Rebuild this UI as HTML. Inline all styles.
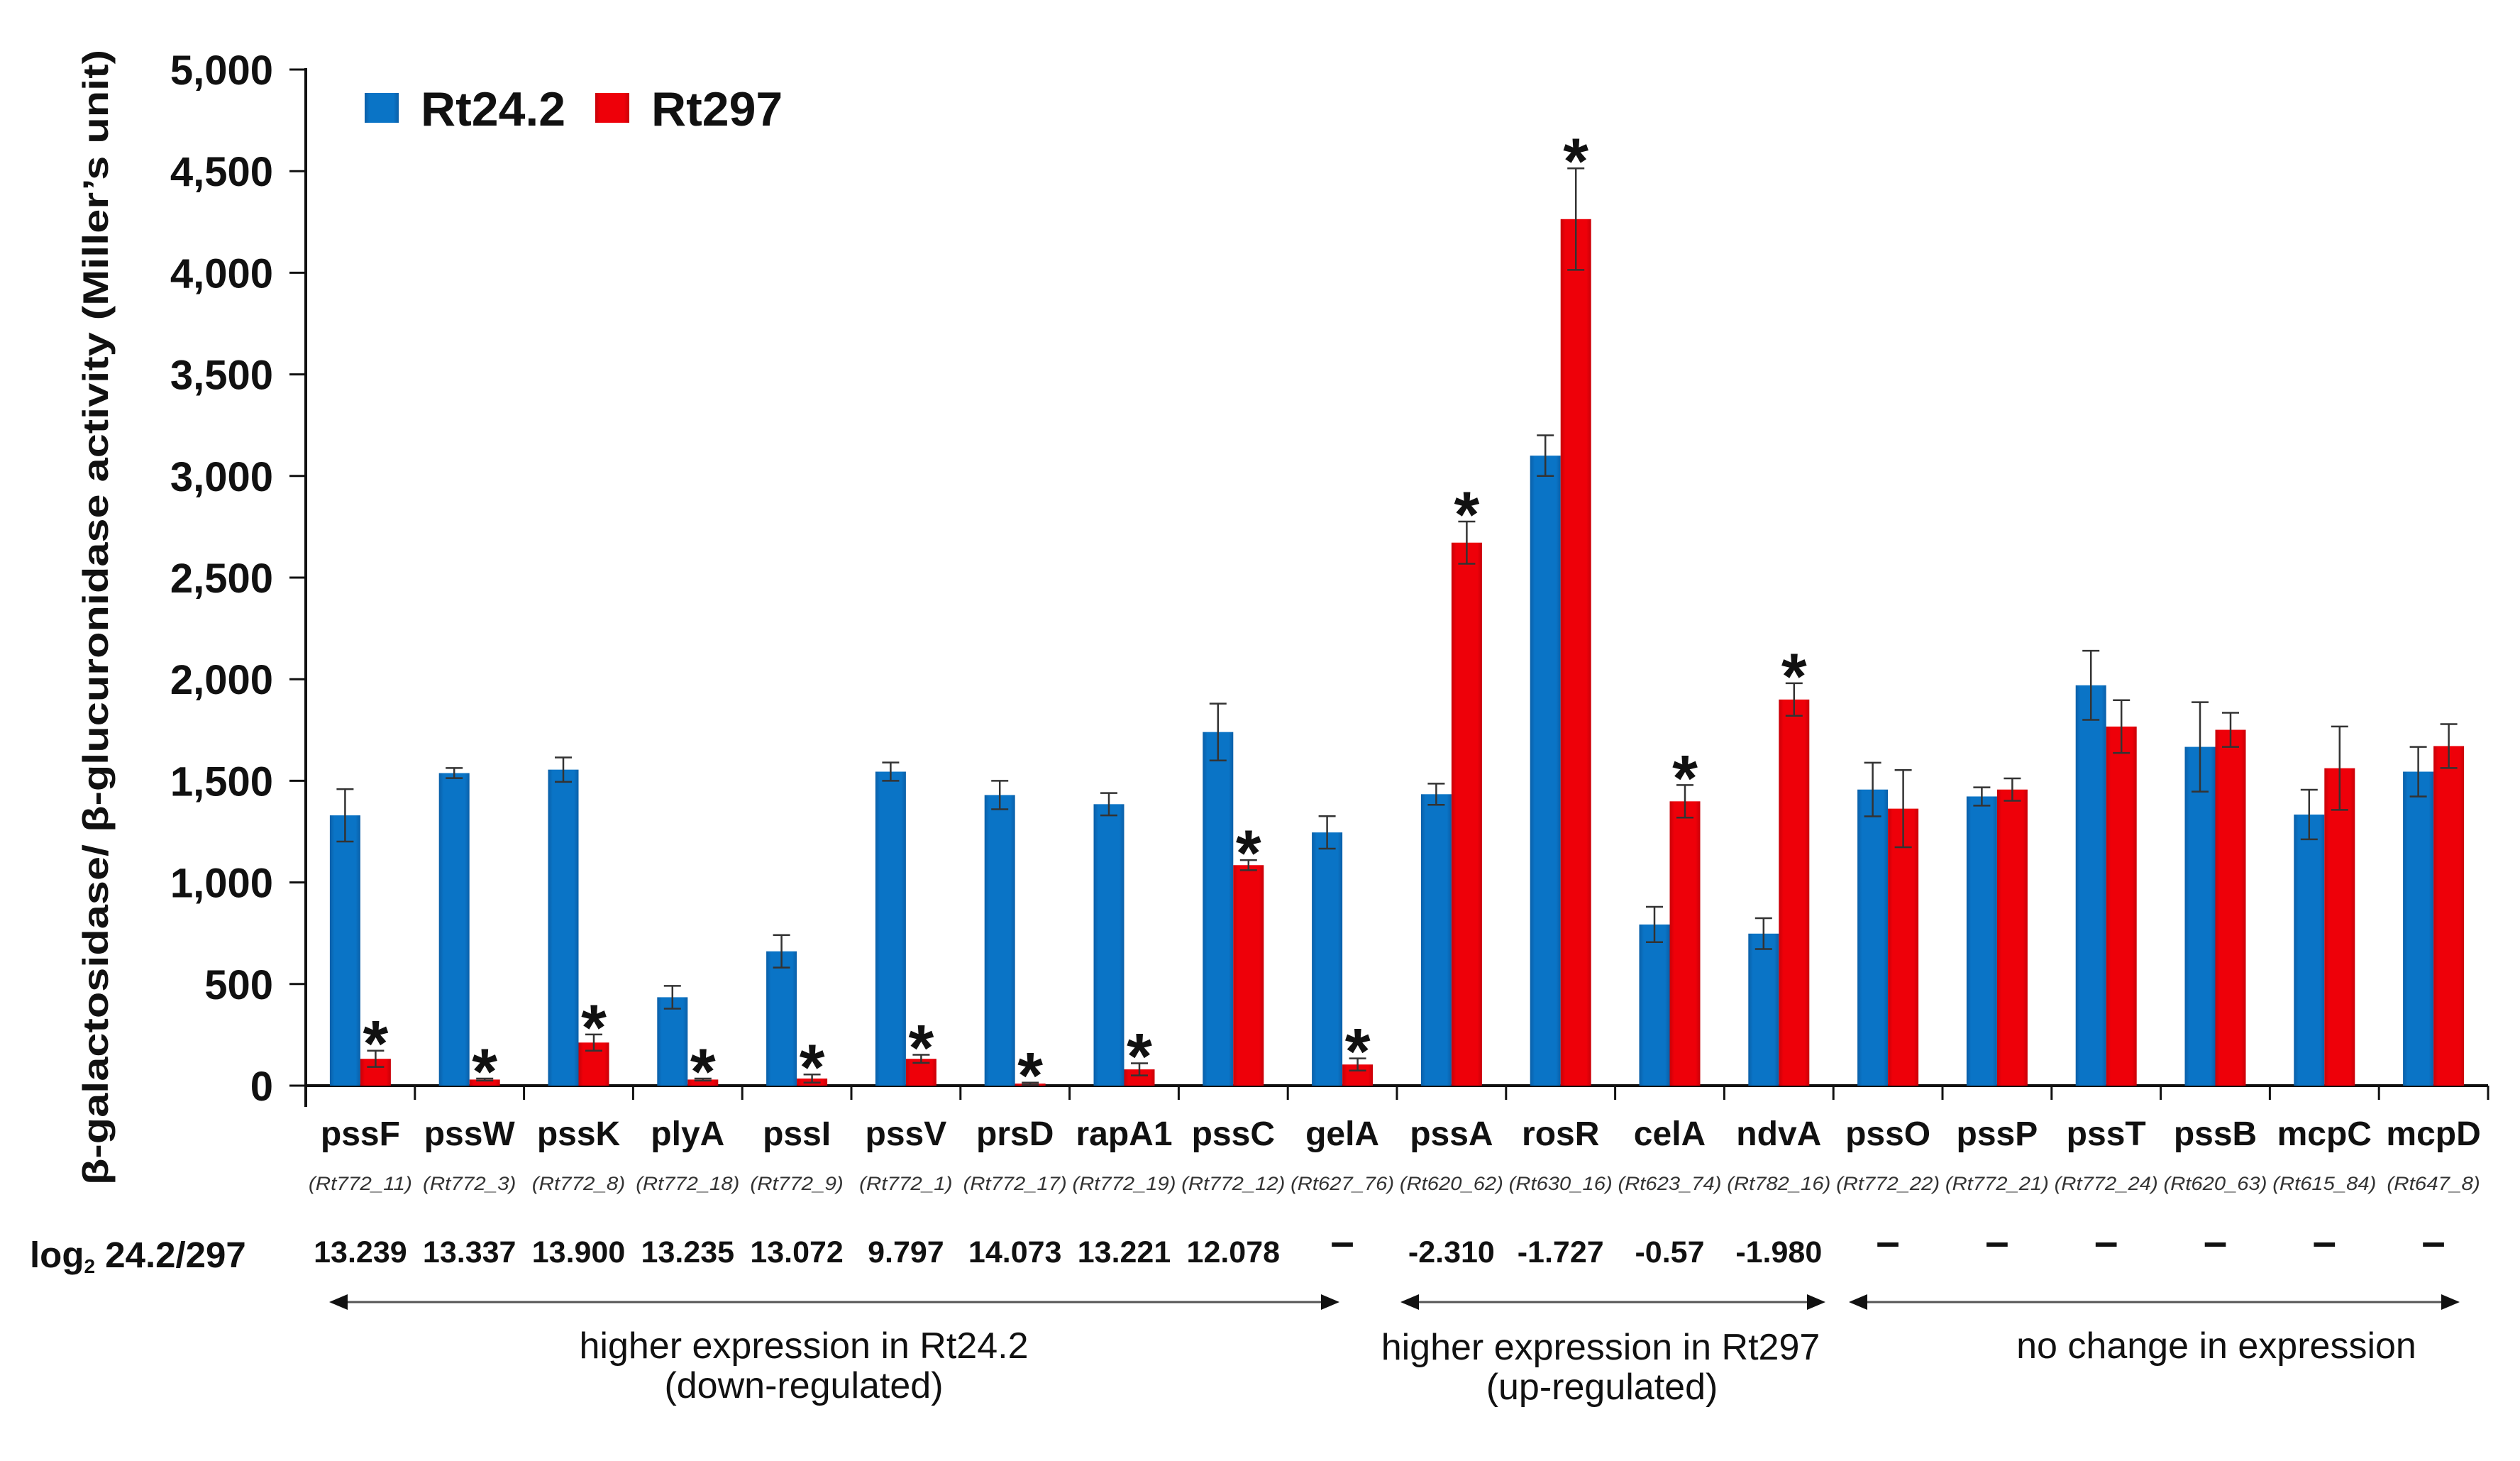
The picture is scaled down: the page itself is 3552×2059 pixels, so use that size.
<!DOCTYPE html>
<html><head><meta charset="utf-8"><style>
html,body{margin:0;padding:0;background:#fff;}
svg{display:block;}
text{font-family:"Liberation Sans",Arial,sans-serif;}
</style></head>
<body>
<svg id="chart" width="3552" height="2059" viewBox="0 0 3552 2059" xmlns="http://www.w3.org/2000/svg">
<defs>
<linearGradient id="gb" x1="0" x2="1" y1="0" y2="0"><stop offset="0" stop-color="#0a5fa8"/><stop offset="0.15" stop-color="#0a74c6"/><stop offset="0.85" stop-color="#0a74c6"/><stop offset="1" stop-color="#0a5fa8"/></linearGradient>
<linearGradient id="gr" x1="0" x2="1" y1="0" y2="0"><stop offset="0" stop-color="#c80008"/><stop offset="0.15" stop-color="#ee0009"/><stop offset="0.85" stop-color="#ee0009"/><stop offset="1" stop-color="#c80008"/></linearGradient>
</defs>
<g id="plot"></g>
</svg>
<script>
const categories=["pssF","pssW","pssK","plyA","pssI","pssV","prsD","rapA1","pssC","gelA","pssA","rosR","celA","ndvA","pssO","pssP","pssT","pssB","mcpC","mcpD"];
const locusTags=["(Rt772_11)","(Rt772_3)","(Rt772_8)","(Rt772_18)","(Rt772_9)","(Rt772_1)","(Rt772_17)","(Rt772_19)","(Rt772_12)","(Rt627_76)","(Rt620_62)","(Rt630_16)","(Rt623_74)","(Rt782_16)","(Rt772_22)","(Rt772_21)","(Rt772_24)","(Rt620_63)","(Rt615_84)","(Rt647_8)"];
const log2Values=["13.239","13.337","13.900","13.235","13.072","9.797","14.073","13.221","12.078","–","-2.310","-1.727","-0.57","-1.980","–","–","–","–","–","–"];
const rt242Values=[1330,1538,1555,435,661,1545,1430,1385,1740,1246,1434,3100,793,748,1457,1423,1970,1667,1334,1545];
const rt242Errors=[129,25,60,56,80,45,70,55,140,80,52,100,87,76,132,45,170,220,122,122];
const rt297Values=[132,30,212,30,35,132,10,80,1085,104,2672,4264,1399,1900,1363,1457,1767,1751,1562,1671];
const rt297Errors=[40,5,40,5,20,20,5,30,25,30,104,250,80,80,190,55,130,84,205,108];
const significant=[1,1,1,1,1,1,1,1,1,1,1,1,1,1,0,0,0,0,0,0];
const yTicks=[0,500,1000,1500,2000,2500,3000,3500,4000,4500,5000];
const yTickLabels=["0","500","1,000","1,500","2,000","2,500","3,000","3,500","4,000","4,500","5,000"];

const NS="http://www.w3.org/2000/svg";
const g=document.getElementById('plot');
const X0=431,X1=3507,Y0=1530,YTOP=98,VMAX=5000;
const gw=(X1-X0)/categories.length;
function yScale(v){return Y0-(v/VMAX)*(Y0-YTOP);}
function xCenter(i){return X0+gw*(i+0.5);}
function el(tag,attrs,parent){const e=document.createElementNS(NS,tag);for(const k in attrs)e.setAttribute(k,attrs[k]);(parent||g).appendChild(e);return e;}
function txt(s,attrs,parent){const e=el('text',attrs,parent);e.textContent=s;return e;}

let e=el('line',{x1:X0,y1:YTOP-2,x2:X0,y2:Y0+30,stroke:'#111','stroke-width':4});


yTicks.forEach((t,i)=>{
  const y=yScale(t);
  const tk=el('line',{x1:X0-23,y1:y,x2:X0,y2:y,stroke:'#111','stroke-width':3});
  
  
  const lb=txt(yTickLabels[i],{x:385,y:y+21,'text-anchor':'end','font-size':58,'font-weight':'bold',fill:'#111'});
  
  
});
e=txt("β-galactosidase/ β-glucuronidase activity (Miller’s unit)",{x:0,y:0,'font-size':50,'font-weight':'bold',fill:'#111','text-anchor':'middle',textLength:1600,lengthAdjust:'spacingAndGlyphs',transform:'translate(152,870) rotate(-90)'});



e=el('line',{x1:X0,y1:Y0,x2:X1,y2:Y0,stroke:'#111','stroke-width':4});


for(let i=0;i<=categories.length;i++){
  const x=X0+gw*i;
  const tk=el('line',{x1:x,y1:Y0,x2:x,y2:Y0+20,stroke:'#111','stroke-width':3});
  
  
}

const BW=43;
function errBar(cx,v,err){
  const yt=yScale(v+err),yb=yScale(Math.max(0,v-err));
  const gr=el('g',{});
  el('line',{x1:cx,y1:yt,x2:cx,y2:yb,stroke:'#333','stroke-width':2.5},gr);
  el('line',{x1:cx-12,y1:yt,x2:cx+12,y2:yt,stroke:'#333','stroke-width':2.5},gr);
  el('line',{x1:cx-12,y1:yb,x2:cx+12,y2:yb,stroke:'#333','stroke-width':2.5},gr);
  return gr;
}
categories.forEach((c,i)=>{
  const cx=xCenter(i);
  const yb=yScale(rt242Values[i]);
  const b=el('rect',{x:cx-BW,y:yb,width:BW,height:Y0-yb,fill:'url(#gb)'});
  
  
  const yr=yScale(rt297Values[i]);
  const r=el('rect',{x:cx,y:yr,width:BW,height:Y0-yr,fill:'url(#gr)'});
  
  
  const e1=errBar(cx-BW/2,rt242Values[i],rt242Errors[i]);
  
  
  const e2=errBar(cx+BW/2,rt297Values[i],rt297Errors[i]);
  
  
  if(significant[i]){
    const sy=yScale(rt297Values[i]+rt297Errors[i])-22;
    const s=txt('*',{x:cx+BW/2,y:sy+44,'text-anchor':'middle','font-size':92,'font-weight':'bold',fill:'#111'});
    
    
  }
  const l=txt(c,{x:cx,y:1614,'text-anchor':'middle','font-size':48,'font-weight':'bold',fill:'#111'});
  
  
  const t=txt(locusTags[i],{x:cx,y:1677,'text-anchor':'middle','font-size':27,'font-style':'italic',fill:'#333',textLength:Math.min(gw-4,locusTags[i].length*14.6),lengthAdjust:'spacingAndGlyphs'});
  
  
  const v=log2Values[i];
  const lv=txt(v,{x:cx,y:v==='–'?1770:1779,'text-anchor':'middle','font-size':v==='–'?60:43,'font-weight':'bold',fill:'#111'});
  
  
});

e=txt('',{x:42,y:1786,'font-size':51,'font-weight':'bold',fill:'#111'});
e.innerHTML='log<tspan font-size="28" dy="8">2</tspan><tspan dy="-8"> 24.2/297</tspan>';



function arrow(x1,x2,name){
  const a=el('g',{});
  el('line',{x1:x1+20,y1:1835,x2:x2-20,y2:1835,stroke:'#555','stroke-width':3},a);
  el('polygon',{points:`${x1},1835 ${x1+26},1824 ${x1+26},1846`,fill:'#111'},a);
  el('polygon',{points:`${x2},1835 ${x2-26},1824 ${x2-26},1846`,fill:'#111'},a);
  
  
}
arrow(464,1888,'arrow-down-regulated');
arrow(1974,2573,'arrow-up-regulated');
arrow(2606,3467,'arrow-no-change');

function grpText(s,x,y,name){const t=txt(s,{x:x,y:y,'text-anchor':'middle','font-size':52,fill:'#111'});}
grpText('higher expression in Rt24.2',1133,1914,'group-label-down');
grpText('(down-regulated)',1133,1970,'group-label-down-sub');
grpText('higher expression in Rt297',2256,1916,'group-label-up');
grpText('(up-regulated)',2258,1972,'group-label-up-sub');
grpText('no change in expression',3124,1914,'group-label-no-change');

const lg=el('g',{});


el('rect',{x:514,y:131,width:48,height:42,fill:'url(#gb)'},lg);
txt('Rt24.2',{x:593,y:177,'font-size':68,'font-weight':'bold',fill:'#111'},lg);
el('rect',{x:839,y:131,width:48,height:42,fill:'url(#gr)'},lg);
txt('Rt297',{x:918,y:177,'font-size':68,'font-weight':'bold',fill:'#111'},lg);
</script>
</body></html>
